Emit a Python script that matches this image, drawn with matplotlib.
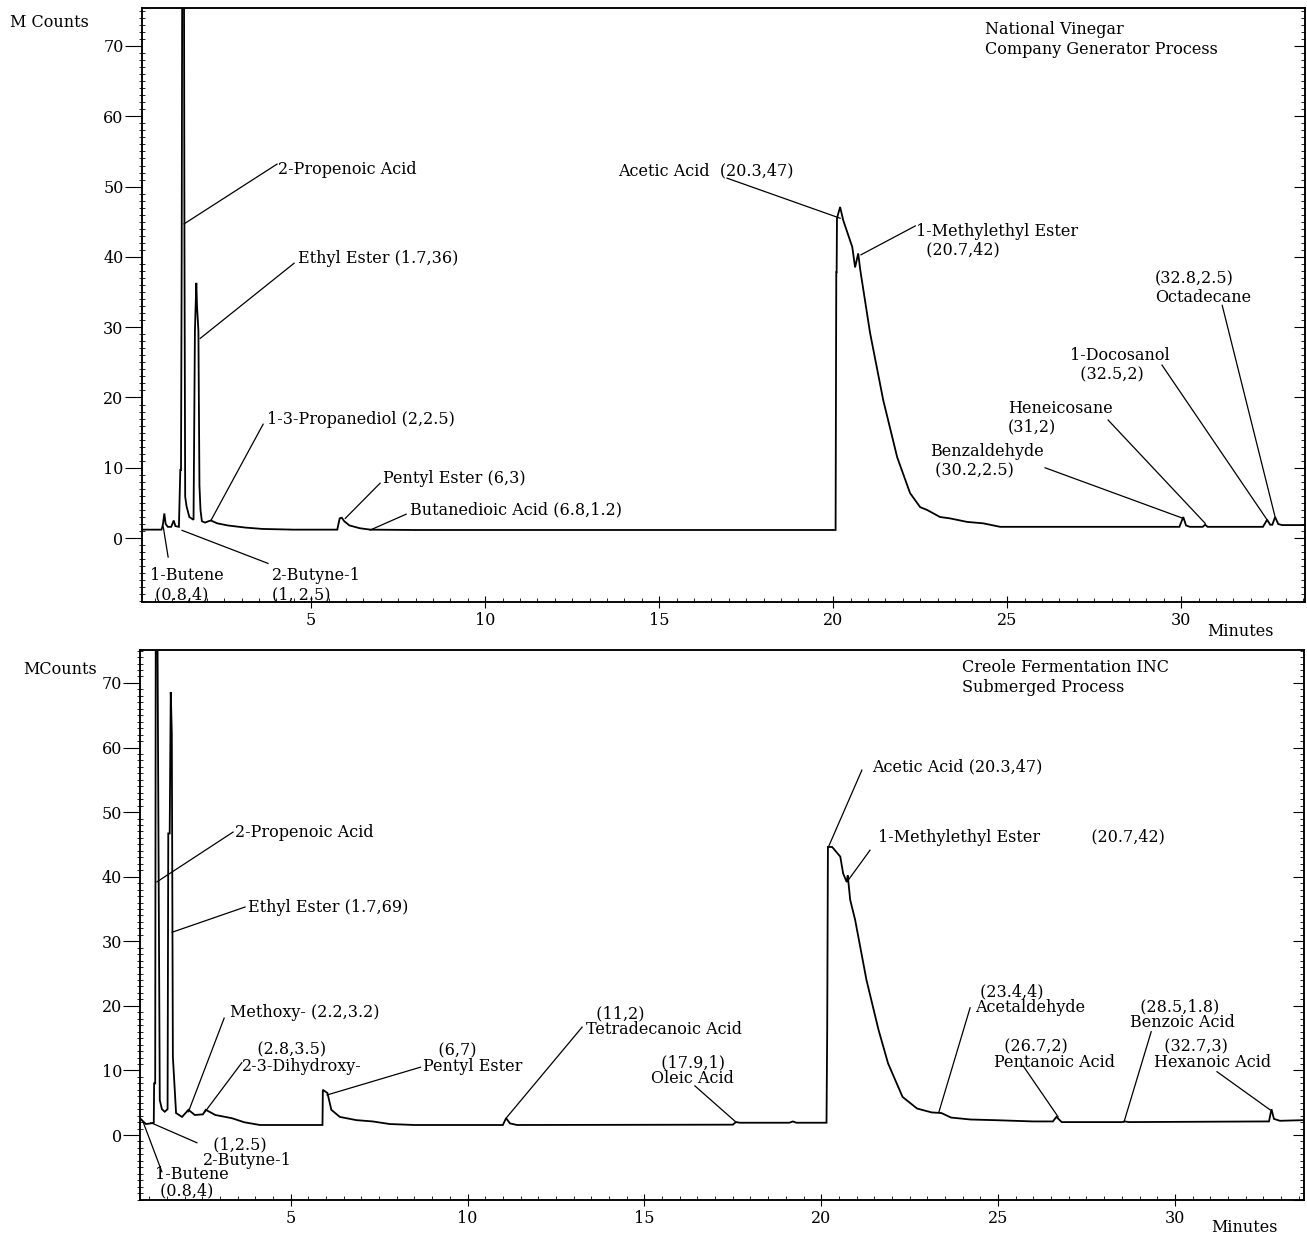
import matplotlib
matplotlib.use('Agg')  # no GUI
import matplotlib.pyplot as plt
from matplotlib.ticker import MultipleLocator

# wide serif face, close to the printout font
plt.rcParams['font.family'] = ['DejaVu Serif', 'Liberation Serif']

# ---- National Vinegar, generator process (minutes, M counts) ----
nv_time = [0.13, 0.70, 0.74, 0.78, 0.82, 0.88, 0.98, 1.05, 1.10, 1.20, 1.24, 1.26, 1.28, 1.30,
           1.34, 1.36, 1.38, 1.42, 1.50, 1.62, 1.66, 1.70, 1.72, 1.76, 1.79, 1.82, 1.86, 1.95,
           2.05, 2.12, 2.30, 2.60, 3.10, 3.60, 4.50, 5.75, 5.82, 5.88, 5.95, 6.10, 6.40, 6.70,
           8.00, 12.0, 16.0, 20.07, 20.09, 20.10, 20.11, 20.20, 20.29, 20.55, 20.63, 20.72,
           20.78, 21.06, 21.44, 21.84, 22.21, 22.50, 22.70, 23.07, 23.36, 23.85, 24.31, 24.80,
           27.0, 29.95, 30.06, 30.14, 30.25, 30.62, 30.69, 30.76, 32.35, 32.47, 32.56, 32.62,
           32.70, 32.79, 32.90, 33.56]
nv_counts = [1.2, 1.2, 1.9, 3.5, 2.0, 1.6, 1.6, 2.5, 1.7, 1.6, 9.7, 9.7, 40.5, 95,
             95, 40.5, 5.9, 4.5, 3.0, 2.6, 29.5, 36.3, 33.0, 29.5, 7.5, 4.0, 2.4, 2.2,
             2.4, 2.5, 2.1, 1.8, 1.5, 1.3, 1.2, 1.2, 2.8, 2.9, 2.4, 1.8, 1.4, 1.2,
             1.15, 1.15, 1.15, 1.15, 37.8, 37.8, 45.5, 47.1, 45.2, 41.4, 38.5, 40.5,
             38.1, 29.2, 19.6, 11.5, 6.4, 4.4, 4.0, 3.0, 2.8, 2.3, 2.1, 1.6,
             1.6, 1.6, 3.0, 1.8, 1.6, 1.6, 1.9, 1.6, 1.6, 2.6, 1.9, 1.9,
             3.0, 2.0, 1.85, 1.85]

# peak labels: text, text anchor, leader start, peak point
nv_labels = ["2-Propenoic Acid", "Ethyl Ester (1.7,36)", "1-3-Propanediol (2,2.5)",
             "Pentyl Ester (6,3)", "Butanedioic Acid (6.8,1.2)", "1-Butene\n (0.8,4)",
             "2-Butyne-1\n(1, 2.5)", "Acetic Acid  (20.3,47)", "1-Methylethyl Ester\n  (20.7,42)",
             "Benzaldehyde\n (30.2,2.5)", "Heneicosane\n(31,2)", "1-Docosanol\n  (32.5,2)",
             "(32.8,2.5)\nOctadecane"]
nv_text_xy = [(4.05, 52.5), (4.63, 39.7), (3.74, 16.8), (7.07, 8.5), (7.84, 4.0), (0.37, -6.7),
              (3.88, -6.7), (13.82, 52.3), (22.39, 42.3), (22.79, 10.95), (25.03, 17.1),
              (26.81, 24.6), (29.25, 35.5)]
nv_lead_xy = [(4.02, 53.2), (4.51, 39.1), (3.62, 16.2), (6.98, 7.8), (7.73, 3.4), (0.89, -2.7),
              (3.76, -3.6), (16.95, 51.2), (22.36, 44.4), (26.09, 10.0), (27.9, 16.8),
              (29.45, 24.6), (31.18, 33.1)]
nv_peak_xy = [(1.35, 44.7), (1.81, 28.4), (2.13, 2.6), (5.98, 2.8), (6.7, 1.15), (0.75, 1.6),
              (1.29, 1.1), (20.2, 45.5), (20.8, 40.3), (30.06, 2.8), (30.69, 2.1),
              (32.47, 2.6), (32.7, 3.0)]

# ---- Creole Fermentation, submerged process ----
cf_time = [0.74, 0.83, 0.91, 1.05, 1.13, 1.14, 1.17, 1.19, 1.22, 1.26, 1.30, 1.36, 1.44,
           1.52, 1.54, 1.58, 1.61, 1.64, 1.67, 1.76, 1.93, 2.11, 2.29, 2.52, 2.60, 2.87, 3.34,
           3.69, 4.13, 5.90, 5.91, 6.04, 6.15, 6.39, 6.86, 7.32, 7.80, 8.5, 11.0, 11.09, 11.2,
           11.4, 17.5, 17.59, 17.7, 19.1, 19.2, 19.3, 20.15, 20.17, 20.19, 20.31, 20.54, 20.62,
           20.72, 20.75, 20.82, 20.96, 21.28, 21.62, 21.89, 22.30, 22.71, 23.12, 23.40, 23.67,
           24.22, 24.90, 26.0, 26.55, 26.65, 26.80, 28.5, 28.59, 28.7, 32.6, 32.66, 32.73, 32.80,
           32.97, 33.65]
cf_counts = [2.6, 2.1, 1.7, 1.8, 1.9, 8.0, 8.0, 95, 95, 49, 5.4, 4.0, 3.6,
             4.0, 46.7, 46.7, 68.6, 62.2, 12.1, 3.4, 2.8, 3.9, 3.1, 3.2, 3.9, 3.1, 2.6,
             1.97, 1.55, 1.55, 7.0, 6.5, 3.9, 2.8, 2.3, 2.1, 1.7, 1.55, 1.55, 2.6, 1.8,
             1.55, 1.6, 2.0, 1.9, 1.9, 2.1, 1.9, 1.9, 16.5, 44.6, 44.6, 43.1, 40.5,
             39.2, 40.2, 36.4, 33.3, 24.0, 16.3, 11.1, 5.9, 4.1, 3.5, 3.4, 2.7,
             2.4, 2.3, 2.1, 2.1, 2.8, 2.0, 2.0, 2.1, 2.0, 2.1, 2.1, 4.0, 2.5,
             2.2, 2.3]

cf_labels = ["2-Propenoic Acid", "Ethyl Ester (1.7,69)", "Methoxy- (2.2,3.2)",
             "   (2.8,3.5)\n2-3-Dihydroxy-", "  (1,2.5)\n2-Butyne-1", "1-Butene\n (0.8,4)",
             "   (6,7)\nPentyl Ester", "  (11,2)\nTetradecanoic Acid", "  (17.9,1)\nOleic Acid",
             "Acetic Acid (20.3,47)", "1-Methylethyl Ester          (20.7,42)",
             " (23.4,4)\nAcetaldehyde", "  (26.7,2)\nPentanoic Acid", "  (28.5,1.8)\nBenzoic Acid",
             "  (32.7,3)\nHexanoic Acid"]
cf_text_xy = [(3.43, 46.8), (3.79, 35.2), (3.29, 18.9), (3.62, 11.9), (2.52, -2.8), (1.16, -7.4),
              (8.73, 11.8), (13.35, 17.6), (15.19, 10.0), (21.44, 57.0), (21.61, 46.0),
              (24.35, 20.9), (24.89, 12.5), (28.73, 18.6), (29.41, 12.5)]
cf_lead_xy = [(3.37, 46.9), (3.71, 35.3), (3.12, 18.1), (3.62, 11.2), (2.35, -1.2), (1.36, -5.7),
              (8.67, 10.5), (13.24, 16.7), (16.43, 7.6), (21.15, 56.5), (21.38, 44.1),
              (24.21, 19.7), (25.71, 10.7), (29.33, 16.0), (31.19, 9.8)]
cf_peak_xy = [(1.22, 39.2), (1.65, 31.4), (2.11, 3.6), (2.58, 3.6), (1.05, 1.9), (0.83, 2.0),
              (6.03, 6.2), (11.09, 2.6), (17.59, 2.0), (20.22, 44.8), (20.73, 39.2),
              (23.33, 3.6), (26.7, 2.8), (28.56, 2.0), (32.69, 3.9)]

FS = 11.5


"""
Draw one chromatogram panel with its peak labels
"""
def draw_panel(ax, time, counts, labels, text_xy, lead_xy, peak_xy, title, title_xy,
               xlim, ylim, spacing):
    ax.plot(time, counts, color='black', lw=1.3, solid_joinstyle='miter')
    ax.set_xlim(*xlim)
    ax.set_ylim(*ylim)

    for lab, txy, lxy, pxy in zip(labels, text_xy, lead_xy, peak_xy):
        ax.text(txy[0], txy[1], lab, ha='left', va='center', fontsize=FS,
                linespacing=spacing)
        ax.plot([lxy[0], pxy[0]], [lxy[1], pxy[1]], color='black', lw=0.9)

    ax.text(title_xy[0], title_xy[1], title, ha='left', va='center', fontsize=FS,
            linespacing=1.2)

    # ticks like the instrument printout
    ax.xaxis.set_major_locator(MultipleLocator(5))
    ax.xaxis.set_minor_locator(MultipleLocator(0.5))
    ax.yaxis.set_major_locator(MultipleLocator(10))
    ax.yaxis.set_minor_locator(MultipleLocator(1))
    ax.tick_params(axis='x', which='major', direction='inout', length=8, labelsize=FS, pad=3)
    ax.tick_params(axis='x', which='minor', direction='in', length=3)
    ax.tick_params(axis='y', which='major', direction='out', length=12, labelsize=FS, pad=1)
    ax.tick_params(axis='y', which='minor', direction='inout', length=5)
    ax.set_yticks([0, 10, 20, 30, 40, 50, 60, 70])

    # right side ticks point inwards
    rax = ax.twinx()
    rax.set_ylim(*ylim)
    rax.yaxis.set_major_locator(MultipleLocator(10))
    rax.yaxis.set_minor_locator(MultipleLocator(1))
    rax.tick_params(which='major', direction='in', length=8, labelright=False)
    rax.tick_params(which='minor', direction='in', length=3)

    for sp in list(ax.spines.values()) + list(rax.spines.values()):
        sp.set_linewidth(1.1)


fig = plt.figure(figsize=(13.07, 12.36), dpi=100)

ax_top = fig.add_axes([0.1084, 0.5129, 0.8901, 0.4806])
draw_panel(ax_top, nv_time, nv_counts, nv_labels, nv_text_xy, nv_lead_xy, nv_peak_xy,
           "National Vinegar\nCompany Generator Process", (24.37, 70.9),
           (0.13, 33.56), (-9.1, 75.4), 1.15)

ax_bot = fig.add_axes([0.1071, 0.0291, 0.8906, 0.4450])
draw_panel(ax_bot, cf_time, cf_counts, cf_labels, cf_text_xy, cf_lead_xy, cf_peak_xy,
           "Creole Fermentation INC\nSubmerged Process", (23.98, 70.8),
           (0.74, 33.65), (-10.07, 75.1), 0.9)

fig.text(0.0077, 0.982, "M Counts", fontsize=FS, ha='left', va='center')
fig.text(0.0176, 0.458, "MCounts", fontsize=FS, ha='left', va='center')
fig.text(0.924, 0.489, "Minutes", fontsize=FS, ha='left', va='center')
fig.text(0.927, 0.0065, "Minutes", fontsize=FS, ha='left', va='center')

fig.savefig('out.png', dpi=100)
plt.close(fig)
